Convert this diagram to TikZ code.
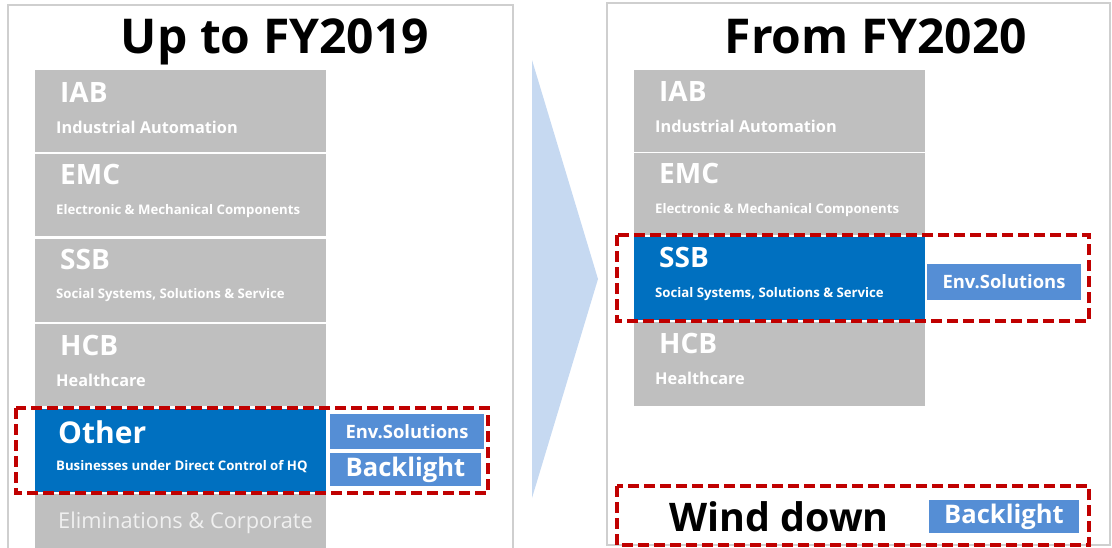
\documentclass[tikz,border=0pt]{standalone}
\usepackage{fontspec}
\setmainfont{Open Sans}
\definecolor{boxgray}{HTML}{BFBFBF}
\definecolor{segblue}{HTML}{0070C0}
\definecolor{lightblue}{HTML}{558ED5}
\definecolor{dashred}{HTML}{C00000}
\definecolor{arrowblue}{HTML}{C6D9F1}
\definecolor{panelgray}{HTML}{CFCFCF}
\newcommand{\fsz}[1]{\fontsize{#1}{#1}\selectfont}
\tikzset{
  seg/.style={fill=boxgray, draw=none, minimum width=291pt, minimum height=82pt, anchor=north west, inner sep=0pt},
  segsel/.style={seg, fill=segblue},
  tag/.style={fill=lightblue, draw=none, inner sep=0pt, text=white, font=\bfseries},
  big/.style={anchor=base west, inner sep=0pt, text=white, font=\bfseries\fsz{28}},
  sub/.style={anchor=base west, inner sep=0pt, text=white, font=\bfseries\fsz{16.3}},
  subs/.style={anchor=base west, inner sep=0pt, text=white, font=\bfseries\fsz{13.2}},
  redbox/.style={draw=dashred, line width=3.6pt, dash pattern=on 11pt off 5pt},
  panel/.style={draw=panelgray, line width=1.5pt, fill=white},
  title/.style={anchor=base, inner sep=0pt, font=\bfseries\fsz{48}}
}
\begin{document}
\begin{tikzpicture}[x=1pt,y=-1pt]
\useasboundingbox (0,0) rectangle (1112,547);
\clip (0,0) rectangle (1112,547);
% panels
\draw[panel] (8,5) rectangle (513,560);
\draw[panel] (607,3) rectangle (1110,545);
% arrow
\fill[arrowblue] (532,60) -- (598,279) -- (532,498) -- cycle;
% titles
\node[title] (t1) at (275,53) {Up to FY2019};
\node[title] (t2) at (876,53) {From FY2020};
% left segments
\node[seg] (iabL) at (35,70) {};
\node[seg] (emcL) at (35,154) {};
\node[seg, minimum height=83pt] (ssbL) at (35,239) {};
\node[seg] (hcbL) at (35,324) {};
\node[segsel, minimum height=83pt] (othL) at (35,409) {};
\node[seg, minimum height=60pt] (elimL) at (35,494) {};
\node[big] (iabLt) at (60,102) {IAB};
\node[sub] (iabLs) at (56,133) {Industrial Automation};
\node[big] (emcLt) at (60,184) {EMC};
\node[subs] (emcLs) at (56,214) {Electronic \& Mechanical Components};
\node[big] (ssbLt) at (60,269) {SSB};
\node[subs] (ssbLs) at (56,298) {Social Systems, Solutions \& Service};
\node[big] (hcbLt) at (60,355) {HCB};
\node[sub] (hcbLs) at (56,386) {Healthcare};
\node[big, font=\bfseries\fsz{30}] (othLt) at (58,443) {Other};
\node[subs] (othLs) at (56,470) {Businesses under Direct Control of HQ};
\node[anchor=base west, inner sep=0pt, text=white!94!black, font=\fsz{21.8}] (elimLt) at (58,528) {Eliminations \& Corporate};
\node[tag, minimum width=154pt, minimum height=35pt, font=\bfseries\fsz{18.4}] (envL) at (407,431.5) {Env.Solutions};
\node[tag, minimum width=151pt, minimum height=33pt, font=\bfseries\fsz{25.6}] (blL) at (405.5,469.5) {Backlight};
\draw[redbox] (16,408) rectangle (488,493);
% right segments
\node[seg] (iabR) at (634,70) {};
\node[seg] (emcR) at (634,153) {};
\node[segsel, minimum height=83pt] (ssbR) at (634,237) {};
\node[seg, minimum height=84pt] (hcbR) at (634,322) {};
\node[big] (iabRt) at (659,101) {IAB};
\node[sub] (iabRs) at (655,132) {Industrial Automation};
\node[big] (emcRt) at (659,183) {EMC};
\node[subs] (emcRs) at (655,213) {Electronic \& Mechanical Components};
\node[big] (ssbRt) at (659,267) {SSB};
\node[subs] (ssbRs) at (655,297) {Social Systems, Solutions \& Service};
\node[big] (hcbRt) at (659,353) {HCB};
\node[sub] (hcbRs) at (655,384) {Healthcare};
\node[tag, minimum width=154pt, minimum height=36pt, font=\bfseries\fsz{18.4}] (envR) at (1004,282) {Env.Solutions};
\draw[redbox] (617,235) rectangle (1089,321);
\node[anchor=base, inner sep=0pt, font=\bfseries\fsz{39.4}] (wind) at (779,531) {Wind down};
\node[tag, minimum width=150pt, minimum height=33pt, font=\bfseries\fsz{25.6}] (blR) at (1004,516.5) {Backlight};
\draw[redbox] (617,486) rectangle (1089,545);
\end{tikzpicture}
\end{document}
